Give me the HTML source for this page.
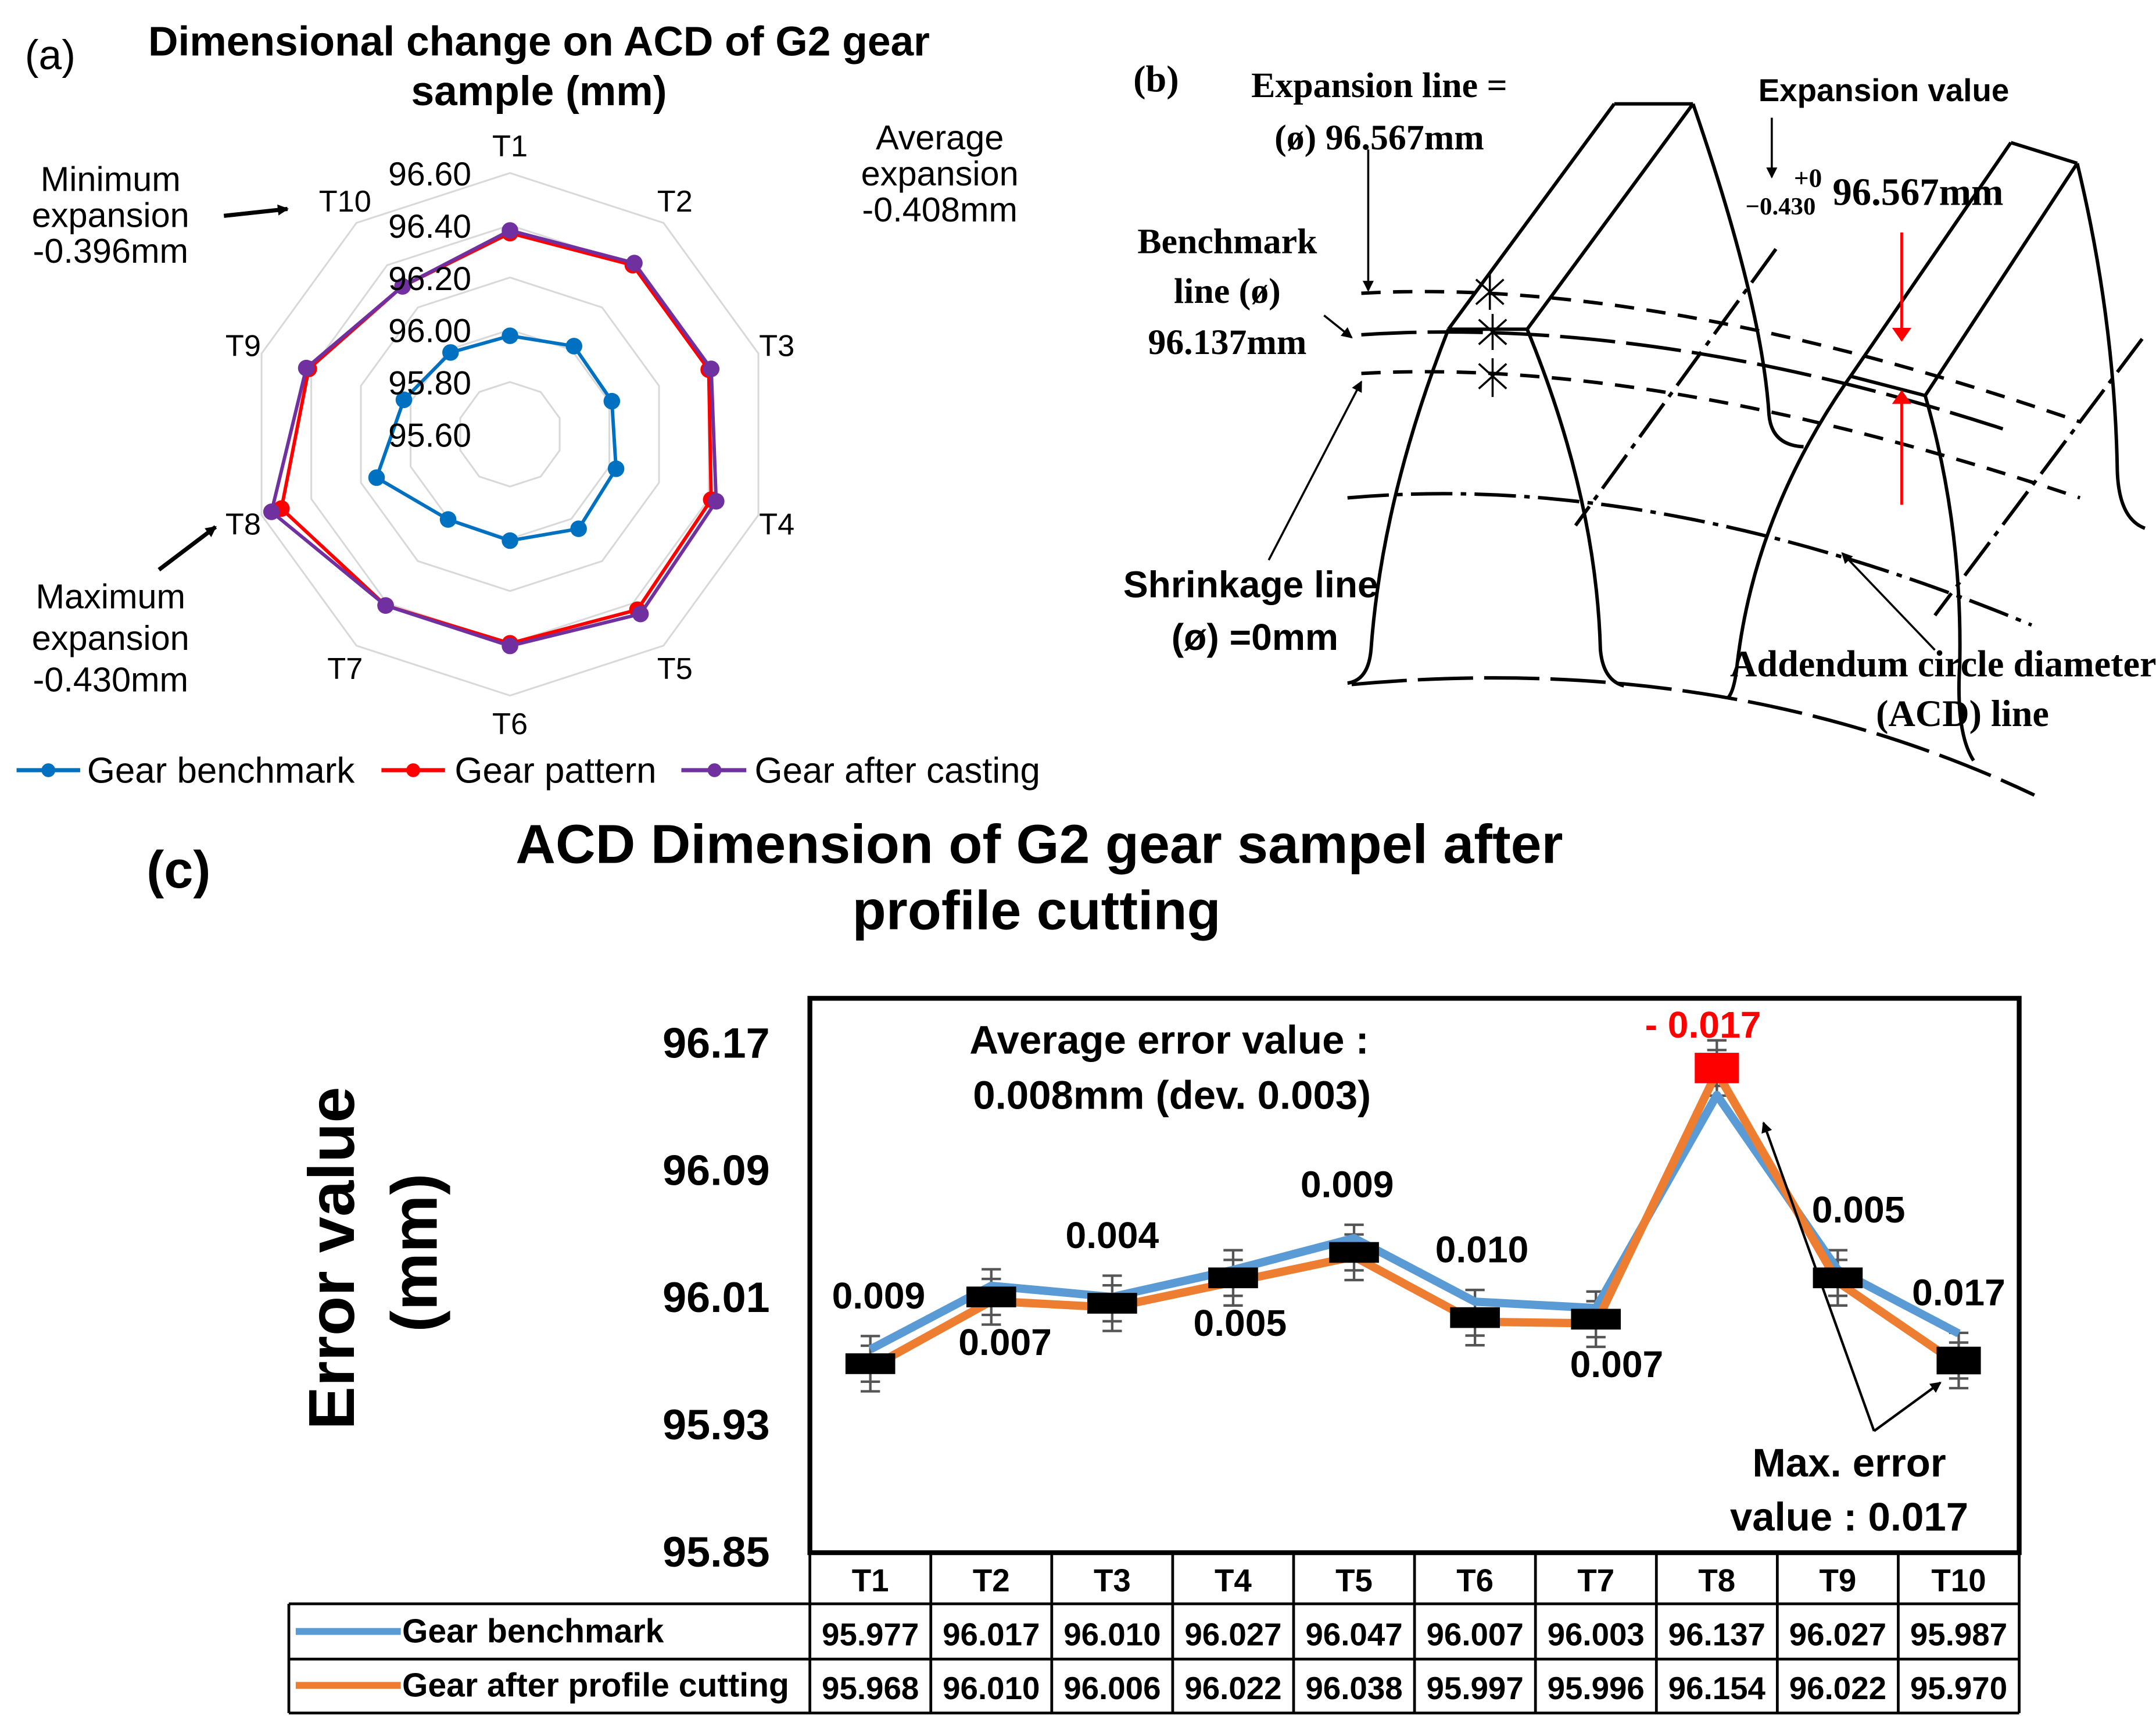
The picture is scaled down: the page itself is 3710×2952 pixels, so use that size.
<!DOCTYPE html>
<html><head><meta charset="utf-8"><style>
html,body{margin:0;padding:0;background:#fff}
svg{display:block}
text{font-family:"Liberation Sans",sans-serif}
.b{font-weight:bold}
.serif{font-family:"Liberation Serif",serif;font-weight:bold}
</style></head><body>
<svg id="fig" width="3710" height="2952" viewBox="0 0 1560 1241" xmlns="http://www.w3.org/2000/svg">
<defs>
<marker id="ah" markerWidth="8" markerHeight="8" refX="7" refY="4" orient="auto" markerUnits="userSpaceOnUse"><path d="M0,0 L8,4 L0,8 z" fill="#000"/></marker>
<marker id="ahr" markerWidth="10" markerHeight="14" refX="9" refY="7" orient="auto" markerUnits="userSpaceOnUse"><path d="M0,0 L10,7 L0,14 z" fill="#f00"/></marker>
</defs>
<rect width="1560" height="1241" fill="#fff"/>

<g id="panelA">
<text x="18" y="50" font-size="30">(a)</text>
<text class="b" x="390" y="40" font-size="30" text-anchor="middle">Dimensional  change on ACD of G2 gear</text>
<text class="b" x="390" y="76" font-size="30" text-anchor="middle">sample (mm)</text>
<g id="radarGrid"></g>
<g id="radarSeries"></g>
<g id="radarLabels"></g>
<g font-size="25" text-anchor="middle">
<text x="80" y="138">Minimum</text><text x="80" y="164">expansion</text><text x="80" y="190">-0.396mm</text></g>
<line x1="162" y1="156" x2="208" y2="151" stroke="#000" stroke-width="3" marker-end="url(#ah)"/>
<g font-size="25" text-anchor="middle">
<text x="680" y="108">Average</text><text x="680" y="134">expansion</text><text x="680" y="160">-0.408mm</text></g>
<g font-size="25" text-anchor="middle">
<text x="80" y="440">Maximum</text><text x="80" y="470">expansion</text><text x="80" y="500">-0.430mm</text></g>
<line x1="115" y1="412" x2="156" y2="381" stroke="#000" stroke-width="3" marker-end="url(#ah)"/>
<g font-size="26">
<g><line x1="12" y1="557" x2="58" y2="557" stroke="#0070c0" stroke-width="3"/><circle cx="35" cy="557" r="5" fill="#0070c0"/><text x="63" y="566">Gear benchmark</text></g>
<g><line x1="276" y1="557" x2="322" y2="557" stroke="#f00" stroke-width="3"/><circle cx="299" cy="557" r="5" fill="#f00"/><text x="329" y="566">Gear pattern</text></g>
<g><line x1="493" y1="557" x2="540" y2="557" stroke="#7030a0" stroke-width="3"/><circle cx="517" cy="557" r="5" fill="#7030a0"/><text x="546" y="566">Gear after casting</text></g>
</g>
</g>

<g id="panelB" fill="none" stroke="#000" stroke-width="2.5">
<text class="serif" x="820" y="66" font-size="27" fill="#000" stroke="none">(b)</text>
<g fill="#000" stroke="none" font-size="26">
<text class="serif" x="998" y="70" text-anchor="middle">Expansion line =</text>
<text class="serif" x="998" y="108" text-anchor="middle">(ø) 96.567mm</text>
<text class="b" x="1363" y="73" text-anchor="middle" font-size="23">Expansion value</text>
<text class="serif" x="1298" y="135" font-size="19">+0</text>
<text class="serif" x="1263" y="155" font-size="18">−0.430</text>
<text class="serif" x="1326" y="148" font-size="28">96.567mm</text>
<text class="serif" x="888" y="183" text-anchor="middle">Benchmark</text>
<text class="serif" x="888" y="219" text-anchor="middle">line (ø)</text>
<text class="serif" x="888" y="256" text-anchor="middle">96.137mm</text>
<text class="b" x="905" y="432" text-anchor="middle" font-size="27">Shrinkage line</text>
<text class="b" x="908" y="470" text-anchor="middle" font-size="27">(ø) =0mm</text>
<text class="serif" x="1406" y="489" text-anchor="middle" font-size="27">Addendum circle diameter</text>
<text class="serif" x="1420" y="525" text-anchor="middle" font-size="27">(ACD) line</text>
</g>
<path d="M1168,75 L1225,75 M1168,75 L1048,238 M1225,75 L1105,238 M1048,238 L1105,238"/>
<path d="M1225,75 Q1275,220 1280,300 Q1282,322 1305,323"/>
<path d="M1048,238 Q1000,360 992,470 Q990,492 975,494"/>
<path d="M1105,238 Q1155,360 1158,470 Q1160,492 1175,496"/>
<path d="M1455,103 L1503,118 M1455,103 L1339,272 M1503,118 L1393,286 M1339,272 L1393,286"/>
<path d="M1339,272 Q1270,370 1257,480 Q1255,500 1250,505"/>
<path d="M1503,118 Q1530,230 1532,340 Q1533,375 1552,382"/>
<path d="M1393,286 Q1420,380 1418,480 Q1415,530 1428,550"/>
<path d="M985,212 Q1200,200 1505,305" stroke-dasharray="14,9"/>
<path d="M985,242 Q1200,228 1455,312" stroke-dasharray="40,8"/>
<path d="M985,270 Q1200,258 1505,360" stroke-dasharray="14,9"/>
<path d="M975,360 Q1200,340 1470,452" stroke-dasharray="30,6,4,6"/>
<path d="M978,495 Q1250,470 1472,575" stroke-dasharray="40,8"/>
<line x1="1285" y1="180" x2="1140" y2="380" stroke-dasharray="30,6,4,6"/>
<line x1="1550" y1="245" x2="1400" y2="445" stroke-dasharray="30,6,4,6"/>
<g stroke-width="1.5">
<path d="M1068,202 L1088,220 M1088,202 L1068,220 M1078,198 L1078,224"/>
<path d="M1070,231 L1090,249 M1090,231 L1070,249 M1080,227 L1080,253"/>
<path d="M1070,263 L1090,281 M1090,263 L1070,281 M1080,259 L1080,287"/>
</g>
<line x1="990" y1="108" x2="990" y2="210" stroke-width="1.5" marker-end="url(#ah)"/>
<line x1="1282" y1="85" x2="1282" y2="128" stroke-width="1.5" marker-end="url(#ah)"/>
<line x1="958" y1="228" x2="978" y2="244" stroke-width="1.5" marker-end="url(#ah)"/>
<line x1="918" y1="405" x2="985" y2="276" stroke-width="1.5" marker-end="url(#ah)"/>
<line x1="1400" y1="470" x2="1333" y2="400" stroke-width="1.5" marker-end="url(#ah)"/>
<line x1="1376" y1="168" x2="1376" y2="246" stroke="#f00" stroke-width="2" marker-end="url(#ahr)"/>
<line x1="1376" y1="365" x2="1376" y2="283" stroke="#f00" stroke-width="2" marker-end="url(#ahr)"/>
</g>

<g id="panelC">
<text class="b" x="106" y="642" font-size="38">(c)</text>
<text class="b" x="752" y="624" font-size="40" text-anchor="middle">ACD Dimension of G2 gear sampel after</text>
<text class="b" x="750" y="672" font-size="40" text-anchor="middle">profile cutting</text>
<text class="b" font-size="47" text-anchor="middle" transform="translate(256,910) rotate(-90)">Error value</text>
<text class="b" font-size="47" text-anchor="middle" transform="translate(316,906) rotate(-90)">(mm)</text>
<g id="yTicks"></g>
<rect x="586" y="722" width="875" height="401" fill="none" stroke="#000" stroke-width="3.5"/>
<g id="series"></g>
<g font-size="29" text-anchor="middle" class="b">
<text x="846" y="762">Average error value :</text><text x="848" y="802">0.008mm (dev. 0.003)</text></g>
<g font-size="29" text-anchor="middle" class="b">
<text x="1338" y="1068">Max. error</text><text x="1338" y="1107">value : 0.017</text></g>
<line x1="1356" y1="1035" x2="1276" y2="812" stroke="#000" stroke-width="1.8" marker-end="url(#ah)"/>
<line x1="1356" y1="1035" x2="1404" y2="1000" stroke="#000" stroke-width="1.8" marker-end="url(#ah)"/>
<g id="table"></g>
</g>
</svg>
<script>
const radarCats = ["T1","T2","T3","T4","T5","T6","T7","T8","T9","T10"];
const radarTicks = ["95.60","95.80","96.00","96.20","96.40","96.60"];
const radarBenchmark = [95.977,96.017,96.010,96.027,96.047,96.007,96.003,96.137,96.027,95.987];
const radarPattern = [96.37,96.40,96.40,96.41,96.43,96.40,96.41,96.52,96.41,96.30];
const radarCasting = [96.38,96.41,96.41,96.43,96.45,96.41,96.41,96.56,96.42,96.30];

const cats = ["T1","T2","T3","T4","T5","T6","T7","T8","T9","T10"];
const benchmark = [95.977,96.017,96.010,96.027,96.047,96.007,96.003,96.137,96.027,95.987];
const cutting = [95.968,96.010,96.006,96.022,96.038,95.997,95.996,96.154,96.022,95.970];
const errorLabels = ["0.009","0.007","0.004","0.005","0.009","0.010","0.007","- 0.017","0.005","0.017"];
const labelAbove = [true,false,true,false,true,true,false,true,true,true];
const yTicks = ["95.85","95.93","96.01","96.09","96.17"];

const NS="http://www.w3.org/2000/svg";
function mk(tag, attrs, parent, txt){const e=document.createElementNS(NS,tag);for(const k in attrs)e.setAttribute(k,attrs[k]);if(txt!==undefined)e.textContent=txt;parent.appendChild(e);return e;}

const cx=369, cy=314, R=189, rMin=95.6, rMax=96.6;
function rr(v){return (v-rMin)/(rMax-rMin)*R;}
function pt(i,v){const a=(i*36-90)*Math.PI/180;const r=rr(v);return [cx+r*Math.cos(a),cy+r*Math.sin(a)];}
const grid=document.getElementById('radarGrid');
for(let k=1;k<radarTicks.length;k++){
  const v=parseFloat(radarTicks[k]);
  const p=radarCats.map((c,i)=>pt(i,v).join(',')).join(' ');
  const ring=mk('polygon',{points:p,fill:'none',stroke:'#d9d9d9','stroke-width':1.3},grid);
  
  
}
const rl=document.getElementById('radarLabels');
radarTicks.forEach((t,k)=>{
  const v=parseFloat(t);
  const y=cy-rr(v)+9;
  const el=mk('text',{x:341,y:y,'font-size':24,'text-anchor':'end'},rl,t);
  
  
});
radarCats.forEach((c,i)=>{
  const a=(i*36-90)*Math.PI/180;
  const x=cx+(R+14)*Math.cos(a), y=cy+(R+20)*Math.sin(a)+8;
  const el=mk('text',{x:x,y:y,'font-size':22,'text-anchor':'middle'},rl,c);
  
  
});
const rs=document.getElementById('radarSeries');
[[radarBenchmark,'#0070c0','benchmark'],[radarPattern,'#f00','pattern'],[radarCasting,'#7030a0','casting']].forEach(([vals,col,nm])=>{
  const g=mk('g',{},rs);
  
  
  const p=vals.map((v,i)=>pt(i,v).join(',')).join(' ');
  mk('polygon',{points:p,fill:'none',stroke:col,'stroke-width':2.5},g);
  vals.forEach((v,i)=>{const q=pt(i,v);const c=mk('circle',{cx:q[0],cy:q[1],r:6,fill:col},g);
    
    });
});

const x0=586, colW=87.5;
function xs(i){return x0+colW*(i+0.5);}
function ys(v){return 1122-(v-95.85)*1150;}
const yt=document.getElementById('yTicks');
yTicks.forEach(t=>{const el=mk('text',{x:557,y:ys(parseFloat(t))+11,'font-size':31,'text-anchor':'end','class':'b'},yt,t);
  
  });
const sg=document.getElementById('series');
cutting.forEach((v,i)=>{
  const x=xs(i), y=ys(v);
  const g=mk('g',{stroke:'#555','stroke-width':1.8},sg);
  
  
  [y-20,y-13,y+13,y+20].forEach(yy=>mk('line',{x1:x-7,x2:x+7,y1:yy,y2:yy},g));
  mk('line',{x1:x,x2:x,y1:y-20,y2:y+20},g);
});
const bl=mk('polyline',{points:benchmark.map((v,i)=>xs(i)+','+ys(v)).join(' '),fill:'none',stroke:'#5b9bd5','stroke-width':6,'stroke-linejoin':'round'},sg);


const ol=mk('polyline',{points:cutting.map((v,i)=>xs(i)+','+(ys(v)+3)).join(' '),fill:'none',stroke:'#ed7d31','stroke-width':6,'stroke-linejoin':'round'},sg);


cutting.forEach((v,i)=>{
  const isMax=i===7;
  const w=isMax?32:(i===9?32:36), h=isMax?22:(i===9?20:15);
  const m=mk('rect',{x:xs(i)-w/2,y:ys(v)-h/2,width:w,height:h,fill:isMax?'#f00':'#000'},sg);
  
  
});
errorLabels.forEach((t,i)=>{
  let y=labelAbove[i]?ys(cutting[i])-40:ys(cutting[i])+42;
  if(i===7) y=ys(cutting[i])-22;
  const dx=[6,10,0,5,-5,5,15,-10,15,0][i];
  const el=mk('text',{x:xs(i)+dx,y:y,'font-size':27,'text-anchor':'middle','class':'b',fill:i===7?'#f00':'#000'},sg,t);
  
  
});

const tb=document.getElementById('table');
const tl={stroke:'#000','stroke-width':2};
mk('line',Object.assign({x1:209,x2:1461,y1:1160,y2:1160},tl),tb);
mk('line',Object.assign({x1:209,x2:1461,y1:1200,y2:1200},tl),tb);
mk('line',Object.assign({x1:209,x2:1461,y1:1239,y2:1239},tl),tb);
mk('line',Object.assign({x1:209,x2:209,y1:1160,y2:1239},tl),tb);
for(let i=0;i<=10;i++){mk('line',Object.assign({x1:x0+colW*i,x2:x0+colW*i,y1:1122,y2:1239},tl),tb);}
cats.forEach((c,i)=>{const e=mk('text',{x:xs(i),y:1151,'font-size':23,'text-anchor':'middle','class':'b'},tb,c);
  
  });
benchmark.forEach((v,i)=>{const e=mk('text',{x:xs(i),y:1190,'font-size':23,'text-anchor':'middle','class':'b'},tb,v.toFixed(3));
  
  });
cutting.forEach((v,i)=>{const e=mk('text',{x:xs(i),y:1229,'font-size':23,'text-anchor':'middle','class':'b'},tb,v.toFixed(3));
  
  });
mk('line',{x1:214,x2:290,y1:1180,y2:1180,stroke:'#5b9bd5','stroke-width':5},tb);
mk('line',{x1:214,x2:290,y1:1219,y2:1219,stroke:'#ed7d31','stroke-width':5},tb);
const l1=mk('text',{x:291,y:1188,'font-size':24,'class':'b'},tb,'Gear benchmark');


const l2=mk('text',{x:291,y:1227,'font-size':24,'class':'b'},tb,'Gear after profile cutting');


</script>
</body></html>
